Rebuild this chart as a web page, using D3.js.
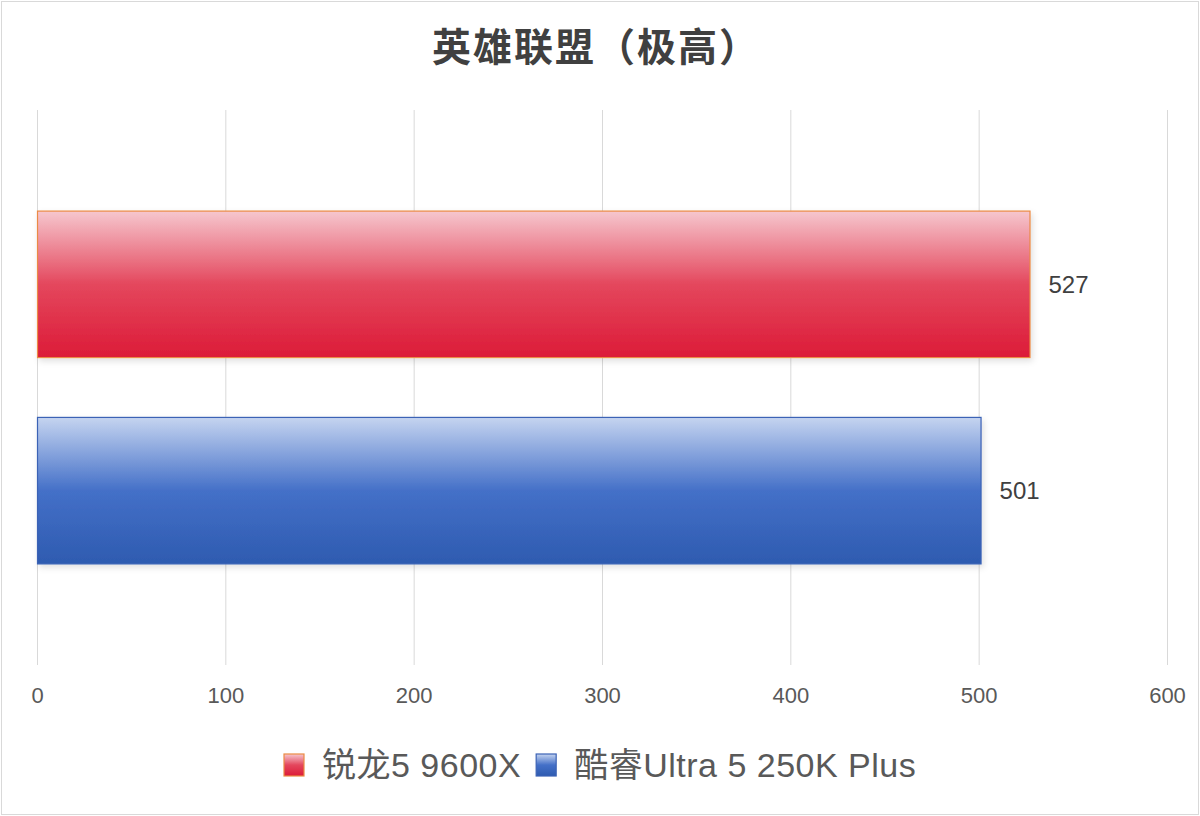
<!DOCTYPE html>
<html>
<head>
<meta charset="utf-8">
<script src="https://cdn.jsdelivr.net/npm/d3@7/dist/d3.min.js"></script>
<style>
  body { margin: 0; background: #fff; }
  svg { display: block; }
</style>
</head>
<body>
<div id="wrapper"></div>
<script>
const title = "英雄联盟（极高）"
const series = ["锐龙5 9600X", "酷睿Ultra 5 250K Plus"]
const values = [527, 501]
const xTicks = [0, 100, 200, 300, 400, 500, 600]
const gradColors = [
  ["#f6c7ce", "#e4475d", "#dc1b38"],
  ["#c5d4f0", "#4470c8", "#2e5bb0"]
]
const strokeColors = ["#eb8a44", "#3b62b5"]

function drawChart() {
  const dimensions = {
    width: 1200,
    height: 816,
    margin: { top: 110, right: 33, bottom: 151, left: 37 }
  }
  dimensions.boundedWidth = dimensions.width - dimensions.margin.left - dimensions.margin.right
  dimensions.boundedHeight = dimensions.height - dimensions.margin.top - dimensions.margin.bottom

  const font = "'Liberation Sans', 'Noto Sans CJK SC', sans-serif"

  const wrapper = d3.select("#wrapper")
    .append("svg")
      .attr("width", dimensions.width)
      .attr("height", dimensions.height)

  const defs = wrapper.append("defs")
  gradColors.forEach((c, i) => {
    const g = defs.append("linearGradient")
      .attr("id", "grad" + i)
      .attr("x1", 0).attr("y1", 0).attr("x2", 0).attr("y2", 1)
    g.append("stop").attr("offset", "0%").attr("stop-color", c[0])
    g.append("stop").attr("offset", "50%").attr("stop-color", c[1])
    g.append("stop").attr("offset", "100%").attr("stop-color", c[2])
  })
  const shadow = defs.append("filter").attr("id", "shadow")
    .attr("x", "-5%").attr("y", "-10%").attr("width", "110%").attr("height", "130%")
  shadow.append("feDropShadow")
    .attr("dx", 2).attr("dy", 3).attr("stdDeviation", 3)
    .attr("flood-color", "#000").attr("flood-opacity", 0.12)

  // outer frame
  wrapper.append("rect")
    .attr("x", 1.5).attr("y", 1.5)
    .attr("width", dimensions.width - 3).attr("height", dimensions.height - 3)
    .attr("fill", "#fff").attr("stroke", "#d9d9d9").attr("stroke-width", 1)

  wrapper.append("text")
    .attr("x", 596).attr("y", 61)
    .attr("text-anchor", "middle")
    .attr("font-family", "'Noto Sans CJK SC', sans-serif")
    .attr("font-weight", "bold")
    .attr("font-size", 39)
    .attr("letter-spacing", 2)
    .attr("fill", "#404040")
    .text(title)

  const bounds = wrapper.append("g")
    .attr("transform", `translate(${dimensions.margin.left}, ${dimensions.margin.top})`)

  const xScale = d3.scaleLinear()
    .domain([0, 600])
    .range([0, 1130])

  const yScale = d3.scaleBand()
    .domain(series)
    .range([0, dimensions.boundedHeight])
    .paddingInner(0.29)
    .paddingOuter(0.49)

  const xAxisGenerator = d3.axisBottom(xScale)
    .tickValues(xTicks)
    .tickSize(dimensions.boundedHeight)
    .tickPadding(22)

  const xAxis = bounds.append("g").call(xAxisGenerator)
  xAxis.select(".domain").remove()
  xAxis.selectAll(".tick line").attr("stroke", "#d9d9d9").attr("stroke-width", 1)
  xAxis.selectAll(".tick text")
    .attr("font-family", font)
    .attr("font-size", 22)
    .attr("fill", "#595959")

  bounds.selectAll(".bar")
    .data(values)
    .join("rect")
      .attr("class", "bar")
      .attr("x", xScale(0) + 0.5)
      .attr("y", (d, i) => yScale(series[i]))
      .attr("width", d => xScale(d) - xScale(0))
      .attr("height", yScale.bandwidth())
      .attr("fill", (d, i) => `url(#grad${i})`)
      .attr("stroke", (d, i) => strokeColors[i])
      .attr("stroke-width", 1.2)
      .attr("filter", "url(#shadow)")

  bounds.selectAll(".val")
    .data(values)
    .join("text")
      .attr("class", "val")
      .attr("x", d => xScale(d) + 19)
      .attr("y", (d, i) => yScale(series[i]) + yScale.bandwidth() / 2)
      .attr("dy", "0.35em")
      .attr("font-family", font)
      .attr("font-size", 24)
      .attr("fill", "#404040")
      .text(d => d)

  // legend
  const legend = wrapper.append("g").attr("transform", "translate(0, 765)")
  let lx = 284
  series.forEach((s, i) => {
    legend.append("rect")
      .attr("x", lx).attr("y", -11)
      .attr("width", 20).attr("height", 22)
      .attr("fill", `url(#grad${i})`)
      .attr("stroke", strokeColors[i]).attr("stroke-width", 1.2)
    const t = legend.append("text")
      .attr("x", lx + 38).attr("y", 0)
      .attr("dy", "0.36em")
      .attr("font-family", font)
      .attr("font-size", 34)
      .attr("letter-spacing", 0.5)
      .attr("fill", "#595959")
      .text(s)
    lx += 38 + t.node().getComputedTextLength() + 15
  })
}

drawChart()
</script>
</body>
</html>
